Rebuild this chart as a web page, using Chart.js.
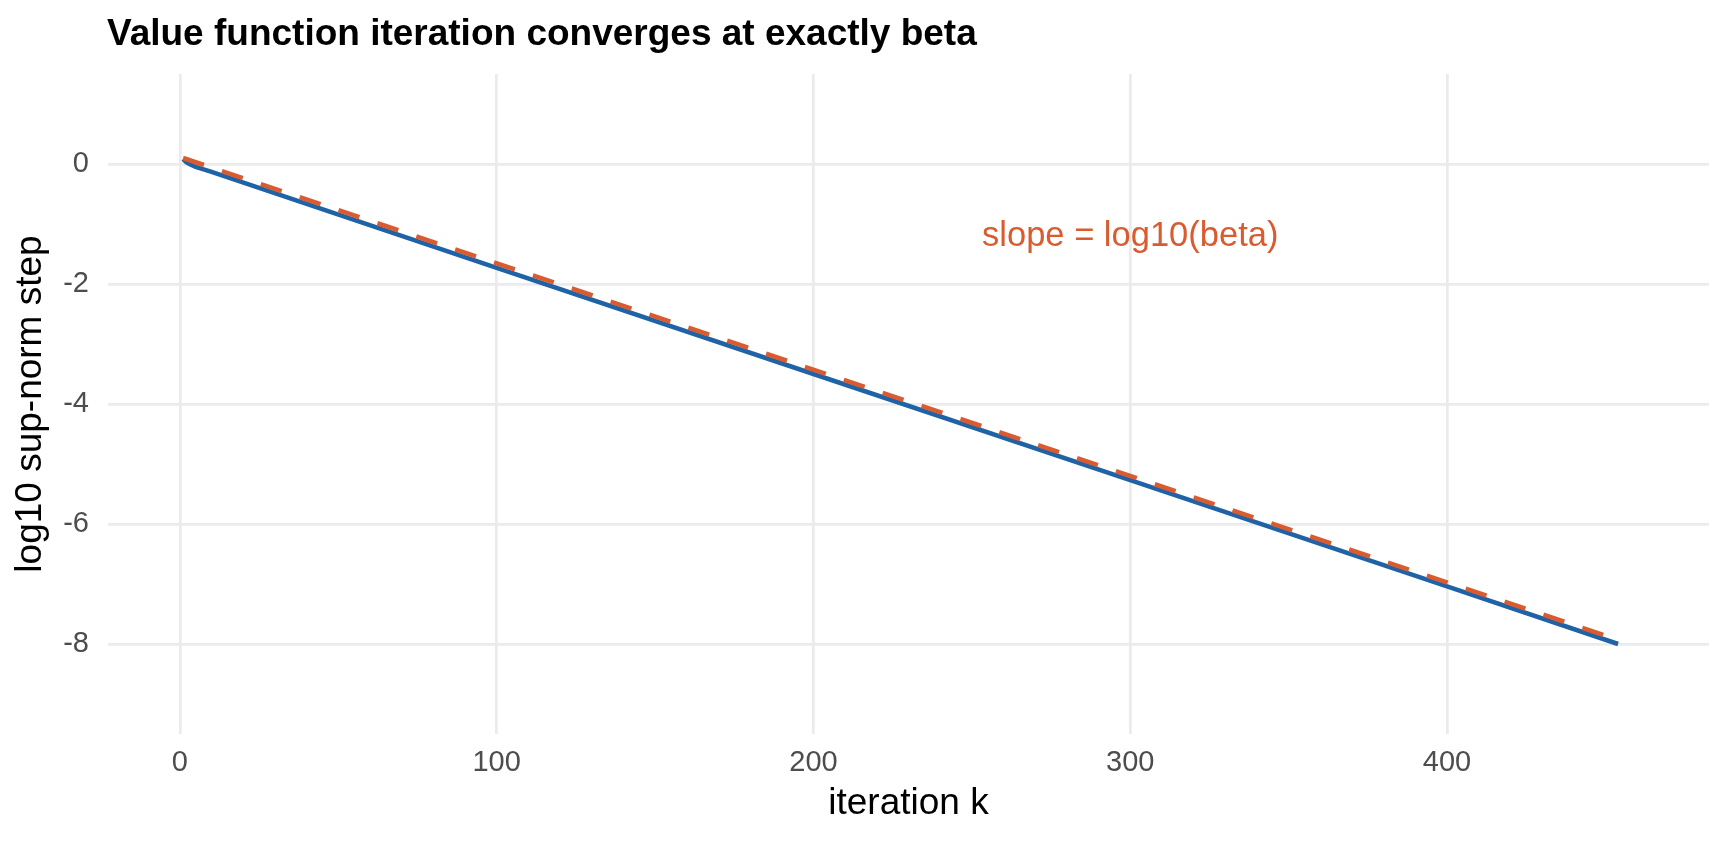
<!DOCTYPE html>
<html>
<head>
<meta charset="utf-8">
<title>Value function iteration</title>
<script src="https://cdn.jsdelivr.net/npm/chart.js@4"></script>
<style>
  html, body { margin: 0; padding: 0; background: #fff; }
  #wrap { width: 1728px; height: 844px; position: relative; }
</style>
</head>
<body>
<div id="wrap"><canvas id="vfiChart"></canvas></div>
<script>
const iterK = [1, 2, 3, 5, 10, 100, 200, 300, 400, 454];
const logStep = [0.08, 0.03, 0.0, -0.05, -0.13, -1.73, -3.50, -5.27, -7.04, -8.0];

// reference line with slope log10(beta)
const refK = [1, 454];
const refLog = [0.10, -7.93];

const xTicks = [0, 100, 200, 300, 400];
const yTicks = [0, -2, -4, -6, -8];

const titleText = "Value function iteration converges at exactly beta";
const noteText = "slope = log10(beta)";
const noteK = 300;
const noteV = -1.2;

const FONT = "'Liberation Sans', Arial, Helvetica, sans-serif";
const BLUE = "#1F63A6";
const ORANGE = "#D95B2F";
const GRID = "#EBEBEB";

const toPoints = (xs, ys) => xs.map((x, i) => ({ x: x, y: ys[i] }));

// title + text annotation
const extrasPlugin = {
    id: "extras",
    afterDraw(chart) {
        const ctx = chart.ctx;
        const area = chart.chartArea;
        ctx.save();
        ctx.fillStyle = "#000";
        ctx.font = "bold 37px " + FONT;
        ctx.textAlign = "left";
        ctx.textBaseline = "alphabetic";
        ctx.fillText(titleText, area.left - 1, 45);

        const px = chart.scales.x.getPixelForValue(noteK);
        const py = chart.scales.y.getPixelForValue(noteV);
        ctx.fillStyle = ORANGE;
        ctx.font = "34.5px " + FONT;
        ctx.textAlign = "center";
        ctx.textBaseline = "middle";
        ctx.fillText(noteText, px, py);
        ctx.restore();
    }
};

const ctx = document.getElementById("vfiChart").getContext("2d");
new Chart(ctx, {
    type: "line",
    data: {
        datasets: [
            {
                label: "reference",
                data: toPoints(refK, refLog),
                borderColor: ORANGE,
                borderWidth: 4.5,
                borderDash: [22, 19],
                pointRadius: 0,
                fill: false,
                tension: 0,
                order: 0,
            },
            {
                label: "sup-norm step",
                data: toPoints(iterK, logStep),
                borderColor: BLUE,
                borderWidth: 4.5,
                pointRadius: 0,
                fill: false,
                tension: 0,
                order: 1,
            },
        ],
    },
    options: {
        responsive: true,
        maintainAspectRatio: false,
        animation: false,
        layout: { padding: { top: 74, right: 19, bottom: 0, left: 0 } },
        plugins: {
            legend: { display: false },
            tooltip: { enabled: false },
        },
        scales: {
            x: {
                type: "linear",
                min: -22.7,
                max: 482.7,
                afterBuildTicks: (scale) => {
                    scale.ticks = xTicks.map((v) => ({ value: v }));
                },
                afterFit: (scale) => { scale.height = 110; },
                grid: { color: GRID, lineWidth: 2.7, drawTicks: false },
                border: { display: false },
                ticks: {
                    color: "#4D4D4D",
                    font: { family: FONT, size: 29 },
                    padding: 12,
                    maxRotation: 0,
                },
                title: {
                    display: true,
                    text: "iteration k",
                    color: "#000",
                    font: { family: FONT, size: 37 },
                    padding: { top: 0, bottom: 18 },
                },
            },
            y: {
                type: "linear",
                min: -9.5,
                max: 1.5,
                afterBuildTicks: (scale) => {
                    scale.ticks = yTicks.map((v) => ({ value: v }));
                },
                afterFit: (scale) => { scale.width = 108; },
                grid: { color: GRID, lineWidth: 2.7, drawTicks: false },
                border: { display: false },
                ticks: {
                    color: "#4D4D4D",
                    font: { family: FONT, size: 29 },
                    padding: 19,
                },
                title: {
                    display: true,
                    text: "log10 sup-norm step",
                    color: "#000",
                    font: { family: FONT, size: 37 },
                    padding: { top: 9, bottom: 0 },
                },
            },
        },
    },
    plugins: [extrasPlugin],
});
</script>
</body>
</html>
